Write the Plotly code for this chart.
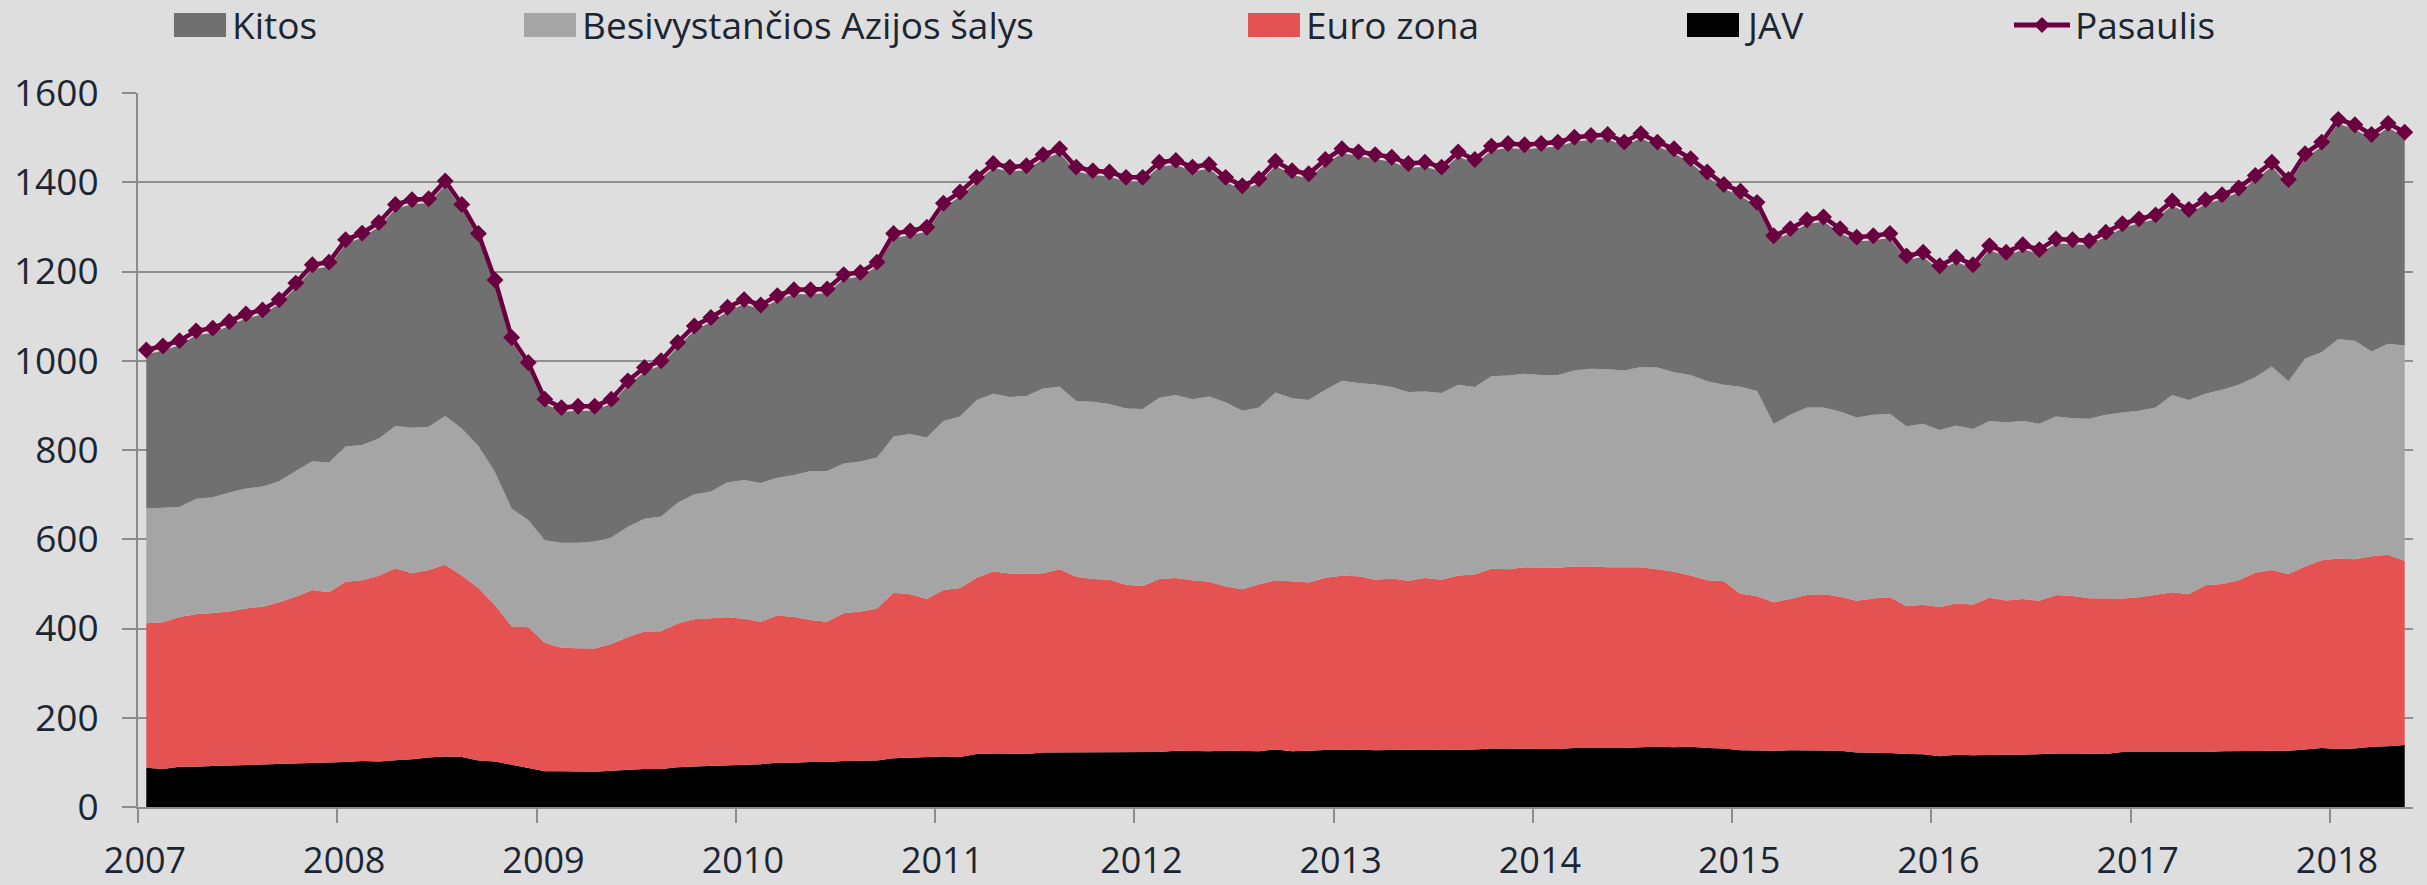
import plotly.graph_objects as go

# ---------------- data (monthly, Jan 2007 .. May 2018) ----------------
years = ["2007", "2008", "2009", "2010", "2011", "2012", "2013",
         "2014", "2015", "2016", "2017", "2018"]

jav = [88, 85, 90, 90, 92, 93, 94, 95, 96, 98, 99, 99,
       101, 103, 102, 105, 107, 111, 113, 112, 104, 102, 95, 88,
       80, 80, 80, 79, 81, 83, 85, 85, 89, 91, 92, 94,
       94, 96, 99, 99, 101, 101, 103, 104, 104, 109, 110, 112,
       113, 112, 119, 120, 120, 119, 122, 122, 123, 123, 122, 122,
       122, 123, 126, 125, 125, 126, 126, 125, 129, 125, 126, 128,
       128, 129, 127, 128, 128, 129, 128, 128, 129, 131, 131, 130,
       130, 130, 132, 132, 132, 132, 134, 135, 134, 135, 132, 131,
       127, 126, 126, 127, 127, 126, 126, 122, 122, 121, 119, 118,
       114, 117, 116, 117, 117, 117, 119, 120, 120, 119, 119, 123,
       123, 123, 123, 123, 123, 125, 125, 125, 126, 126, 129, 132,
       130, 131, 135, 136, 139]

euro = [324, 329, 336, 342, 343, 345, 351, 354, 363, 373, 387, 382,
        404, 405, 416, 430, 417, 420, 430, 407, 387, 350, 310, 315,
        288, 277, 276, 276, 284, 298, 308, 309, 322, 330, 331, 331,
        328, 319, 330, 327, 318, 314, 331, 334, 341, 371, 367, 354,
        373, 379, 395, 408, 403, 403, 402, 411, 393, 388, 387, 376,
        373, 388, 387, 383, 380, 368, 362, 374, 379, 380, 377, 386,
        390, 388, 382, 384, 379, 384, 381, 391, 392, 403, 402, 407,
        406, 406, 407, 407, 405, 405, 403, 398, 393, 384, 376, 375,
        351, 346, 333, 339, 348, 351, 345, 340, 345, 349, 331, 335,
        334, 339, 338, 352, 346, 349, 343, 355, 353, 349, 348, 344,
        347, 352, 358, 354, 374, 375, 383, 400, 405, 396, 410, 421,
        427, 424, 427, 429, 412]

asia = [257, 256, 246, 259, 259, 267, 269, 269, 271, 282, 289, 291,
        303, 303, 308, 319, 326, 321, 333, 329, 318, 298, 264, 240,
        230, 235, 236, 240, 239, 247, 253, 257, 271, 280, 284, 303,
        311, 311, 309, 318, 334, 338, 336, 336, 338, 350, 359, 362,
        379, 384, 398, 398, 396, 399, 414, 409, 394, 397, 394, 395,
        397, 406, 410, 406, 415, 413, 400, 396, 421, 411, 409, 421,
        437, 433, 438, 429, 423, 418, 419, 427, 420, 431, 434, 434,
        432, 432, 439, 443, 444, 441, 449, 452, 447, 449, 446, 440,
        464, 460, 399, 413, 420, 418, 415, 411, 412, 411, 403, 406,
        397, 399, 393, 396, 399, 399, 397, 400, 398, 402, 412, 417,
        418, 420, 442, 435, 429, 435, 438, 438, 456, 432, 466, 466,
        492, 490, 459, 473, 483]

kitos = [345, 353, 363, 366, 369, 373, 381, 386, 397, 411, 430, 439,
         453, 465, 474, 486, 501, 501, 517, 492, 466, 421, 373, 343,
         306, 293, 296, 293, 300, 317, 329, 339, 349, 367, 380, 382,
         394, 389, 398, 405, 396, 398, 413, 414, 428, 445, 445, 461,
         478, 493, 489, 506, 505, 506, 514, 523, 514, 508, 510, 508,
         509, 518, 516, 510, 510, 494, 494, 503, 508, 500, 497, 506,
         510, 508, 505, 505, 502, 504, 496, 512, 500, 506, 510, 503,
         509, 512, 513, 513, 516, 502, 513, 495, 491, 475, 459, 439,
         428, 413, 412, 407, 411, 417, 400, 394, 391, 394, 372, 374,
         358, 367, 358, 383, 371, 385, 380, 388, 390, 389, 399, 413,
         420, 422, 425, 417, 425, 427, 431, 442, 448, 442, 449, 461,
         482, 474, 476, 484, 468]

pasaulis = [1024, 1033, 1045, 1067, 1073, 1088, 1105, 1114, 1137, 1174, 1215, 1221,
            1271, 1286, 1310, 1350, 1361, 1363, 1403, 1350, 1285, 1181, 1052, 996,
            914, 895, 898, 898, 914, 955, 985, 1000, 1041, 1078, 1097, 1120,
            1137, 1125, 1146, 1159, 1159, 1161, 1193, 1198, 1221, 1285, 1291, 1299,
            1353, 1378, 1411, 1442, 1434, 1437, 1462, 1475, 1434, 1426, 1423, 1411,
            1411, 1445, 1449, 1434, 1440, 1411, 1392, 1408, 1447, 1426, 1419, 1451,
            1475, 1468, 1462, 1456, 1442, 1445, 1434, 1468, 1451, 1481, 1487, 1484,
            1487, 1490, 1501, 1505, 1507, 1490, 1509, 1490, 1475, 1453, 1423, 1395,
            1380, 1355, 1280, 1296, 1316, 1322, 1296, 1277, 1280, 1285, 1235, 1243,
            1213, 1232, 1215, 1258, 1243, 1260, 1249, 1273, 1271, 1269, 1288, 1307,
            1318, 1327, 1358, 1339, 1361, 1372, 1387, 1415, 1445, 1406, 1464, 1490,
            1541, 1529, 1507, 1532, 1512]

series_names = ["JAV", "Euro zona", "Besivystančios Azijos šalys", "Kitos"]
series_values = [jav, euro, asia, kitos]
series_colors = ["#000000", "#e55252", "#a5a5a5", "#707070"]
line_color = "#6b0040"

months = list(range(len(pasaulis)))

# ---------------- figure ----------------
W, H = 2427, 885
ML, MR, MT, MB = 138, 14, 93, 78
PW, PH = W - ML - MR, H - MT - MB
FONT = "Open Sans"
TXT = "#1c2633"
BG = "#dedede"

fig = go.Figure()
for name, vals, col in zip(series_names, series_values, series_colors):
    fig.add_trace(go.Scatter(
        x=months, y=vals, name=name, mode="lines",
        stackgroup="one", line=dict(width=0, color=col),
        fillcolor=col, showlegend=False, hoverinfo="x+y+name"))

fig.add_trace(go.Scatter(
    x=months, y=pasaulis, name="Pasaulis", mode="lines+markers",
    line=dict(color=line_color, width=4.5),
    marker=dict(symbol="diamond", size=13, color=line_color),
    showlegend=False))

tick_pos = [-0.5 + 12 * k for k in range(len(years))]

fig.update_layout(
    width=W, height=H,
    margin=dict(l=ML, r=MR, t=MT, b=MB, autoexpand=False),
    paper_bgcolor=BG, plot_bgcolor=BG,
    font=dict(family=FONT, size=37, color=TXT),
    xaxis=dict(
        automargin=False,
        range=[-0.5, len(pasaulis) - 0.5],
        tickvals=tick_pos, ticktext=years,
        showgrid=False, zeroline=False,
        showline=True, linecolor="#8c8c8c", linewidth=2,
        ticks="outside", ticklen=14, tickwidth=2, tickcolor="#8c8c8c",
        tickfont=dict(family=FONT, size=36, color=TXT),
        ticklabelstandoff=7, ticklabelshift=7),
    yaxis=dict(
        automargin=False,
        range=[0, 1600], tickvals=[0, 200, 400, 600, 800, 1000, 1200, 1400, 1600],
        showgrid=True, gridcolor="#8f8f8f", gridwidth=2, zeroline=False,
        showline=True, linecolor="#8c8c8c", linewidth=2,
        ticks="outside", ticklen=14, tickwidth=2, tickcolor="#8c8c8c",
        tickfont=dict(family=FONT, size=37, color=TXT),
        ticklabelstandoff=16),
)

# ---------------- manual legend (Excel-like) ----------------
def px_x(px):
    return (px - ML) / PW

def px_y(py):
    return (MT + PH - py) / PH

legend_items = [
    ("Kitos", "#707070", 174),
    ("Besivystančios Azijos šalys", "#a5a5a5", 524),
    ("Euro zona", "#e55252", 1248),
    ("JAV", "#000000", 1687),
]
shapes = []
annotations = []
for name, col, x0 in legend_items:
    shapes.append(dict(type="rect", xref="paper", yref="paper",
                       x0=px_x(x0), x1=px_x(x0 + 52), y0=px_y(37), y1=px_y(13),
                       fillcolor=col, line=dict(width=0)))
    annotations.append(dict(text=name, xref="paper", yref="paper",
                            x=px_x(x0 + 56), y=px_y(25), xanchor="left",
                            yanchor="middle", showarrow=False,
                            font=dict(family=FONT, size=37, color=TXT)))

# Pasaulis legend entry: line with diamond
lx0, lx1, lcx, ly = 2014, 2070, 2042, 25
shapes.append(dict(type="line", xref="paper", yref="paper",
                   x0=px_x(lx0), x1=px_x(lx1), y0=px_y(ly), y1=px_y(ly),
                   line=dict(color=line_color, width=5)))
d = 8
shapes.append(dict(type="path", xref="paper", yref="paper",
                   path=(f"M {px_x(lcx - d)} {px_y(ly)} L {px_x(lcx)} {px_y(ly - d)} "
                         f"L {px_x(lcx + d)} {px_y(ly)} L {px_x(lcx)} {px_y(ly + d)} Z"),
                   fillcolor=line_color, line=dict(width=0)))
annotations.append(dict(text="Pasaulis", xref="paper", yref="paper",
                        x=px_x(2073), y=px_y(25), xanchor="left",
                        yanchor="middle", showarrow=False,
                        font=dict(family=FONT, size=37, color=TXT)))

fig.update_layout(shapes=shapes, annotations=annotations)

fig.write_html(
    "out.html",
    config={"displayModeBar": False},
    post_script=("document.body.style.margin='0';"
                 "document.body.style.overflow='hidden';"
                 f"document.body.style.background='{BG}';"),
)
